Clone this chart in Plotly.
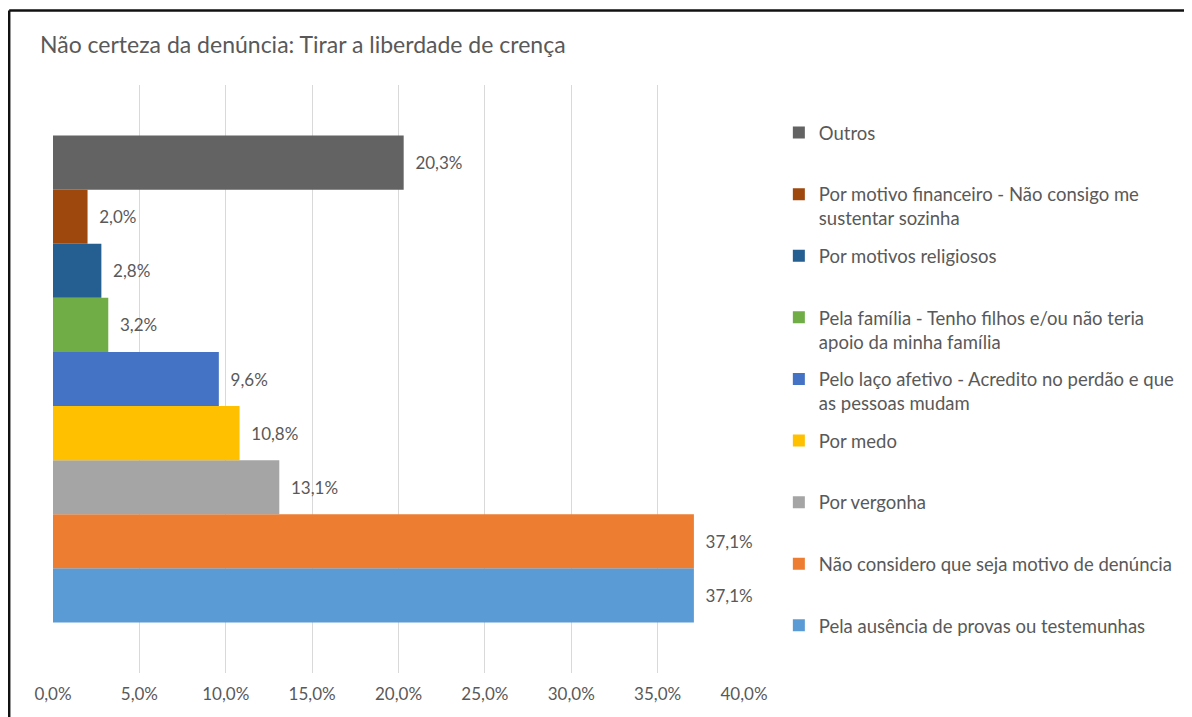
import plotly.graph_objects as go

# ---- data (bottom-to-top drawing order, as in the source chart) ----
series_names = [
    "Pela ausência de provas ou testemunhas",
    "Não considero que seja motivo de denúncia",
    "Por vergonha",
    "Por medo",
    "Pelo laço afetivo - Acredito no perdão e que<br>as pessoas mudam",
    "Pela família - Tenho filhos e/ou não teria<br>apoio da minha família",
    "Por motivos religiosos",
    "Por motivo financeiro - Não consigo me<br>sustentar sozinha",
    "Outros",
]
values = [0.371, 0.371, 0.131, 0.108, 0.096, 0.032, 0.028, 0.020, 0.203]
colors = ["#5B9BD5", "#ED7D31", "#A5A5A5", "#FFC000", "#4472C4",
          "#70AD47", "#255E91", "#9E480E", "#636363"]
category = ["Tirar a liberdade de crença"]
x_ticks = [0, 0.05, 0.10, 0.15, 0.20, 0.25, 0.30, 0.35, 0.40]
title_text = "Não certeza da denúncia: Tirar a liberdade de crença"

# ---- layout geometry (page pixels; the page body has an 8px margin) ----
OFF = 8
W, H = 1192 - OFF, 717 - OFF
PL, PR, PT, PB = 53, 747, 85, 673          # plot area in page pixels
L, T = PL - OFF, PT - OFF
R, B = W - (PR - OFF), H - (PB - OFF)
PW, PH = PR - PL, PB - PT
FONT = "Lato, 'Open Sans', sans-serif"
TXT = "#595959"


def px_x(px):
    return (px - PL) / PW


def px_y(py):
    return (PB - py) / PH


fig = go.Figure()
n = len(series_names)
for i, (name, v, c) in enumerate(zip(series_names, values, colors)):
    label = name if "<br>" in name else name + "<br>\u00a0"
    fig.add_trace(go.Bar(
        x=[v], y=category, orientation="h", name=label,
        legendgroup=name, legendrank=100 + (n - i),
        marker=dict(color=c, line=dict(width=0)),
        texttemplate="\u00a0\u00a0%{x:.1%}",
        textposition="outside", cliponaxis=False,
        textfont=dict(family=FONT, size=17, color=TXT),
        hoverinfo="x+name",
    ))

fig.update_layout(
    width=W, height=H,
    margin=dict(l=L, r=R, t=T, b=B, pad=0),
    paper_bgcolor="white", plot_bgcolor="white",
    barmode="group", bargap=0.172, bargroupgap=0,
    separators=",.",
    font=dict(family=FONT, color=TXT),
    title=dict(text=title_text, x=(40 - OFF) / W, xanchor="left",
               xref="container",
               y=1 - (45 - OFF) / H, yanchor="middle", yref="container",
               font=dict(family=FONT, size=23, color=TXT)),
    xaxis=dict(range=[0, 0.40], tickvals=x_ticks, tickformat=".1%",
               showgrid=True, gridcolor="#D9D9D9", gridwidth=1,
               zeroline=False, showline=False, ticks="",
               ticklabelstandoff=9,
               tickfont=dict(family=FONT, size=17, color=TXT)),
    yaxis=dict(showticklabels=False, showgrid=False, zeroline=False,
               showline=False, ticks=""),
    legend=dict(traceorder="grouped", tracegroupgap=10.5,
                x=px_x(782), xanchor="left", y=px_y(114), yanchor="top",
                valign="top", itemwidth=30,
                font=dict(family=FONT, size=18.5, color=TXT),
                bgcolor="rgba(0,0,0,0)"),
    shapes=[
        dict(type="line", xref="paper", yref="paper",
             x0=px_x(9), x1=px_x(1210), y0=px_y(10.5), y1=px_y(10.5),
             line=dict(color="#111111", width=2.5)),
        dict(type="line", xref="paper", yref="paper",
             x0=px_x(9), x1=px_x(9), y0=px_y(10.5), y1=px_y(730),
             line=dict(color="#111111", width=2.5)),
    ],
)

fig.write_html("out.html")
